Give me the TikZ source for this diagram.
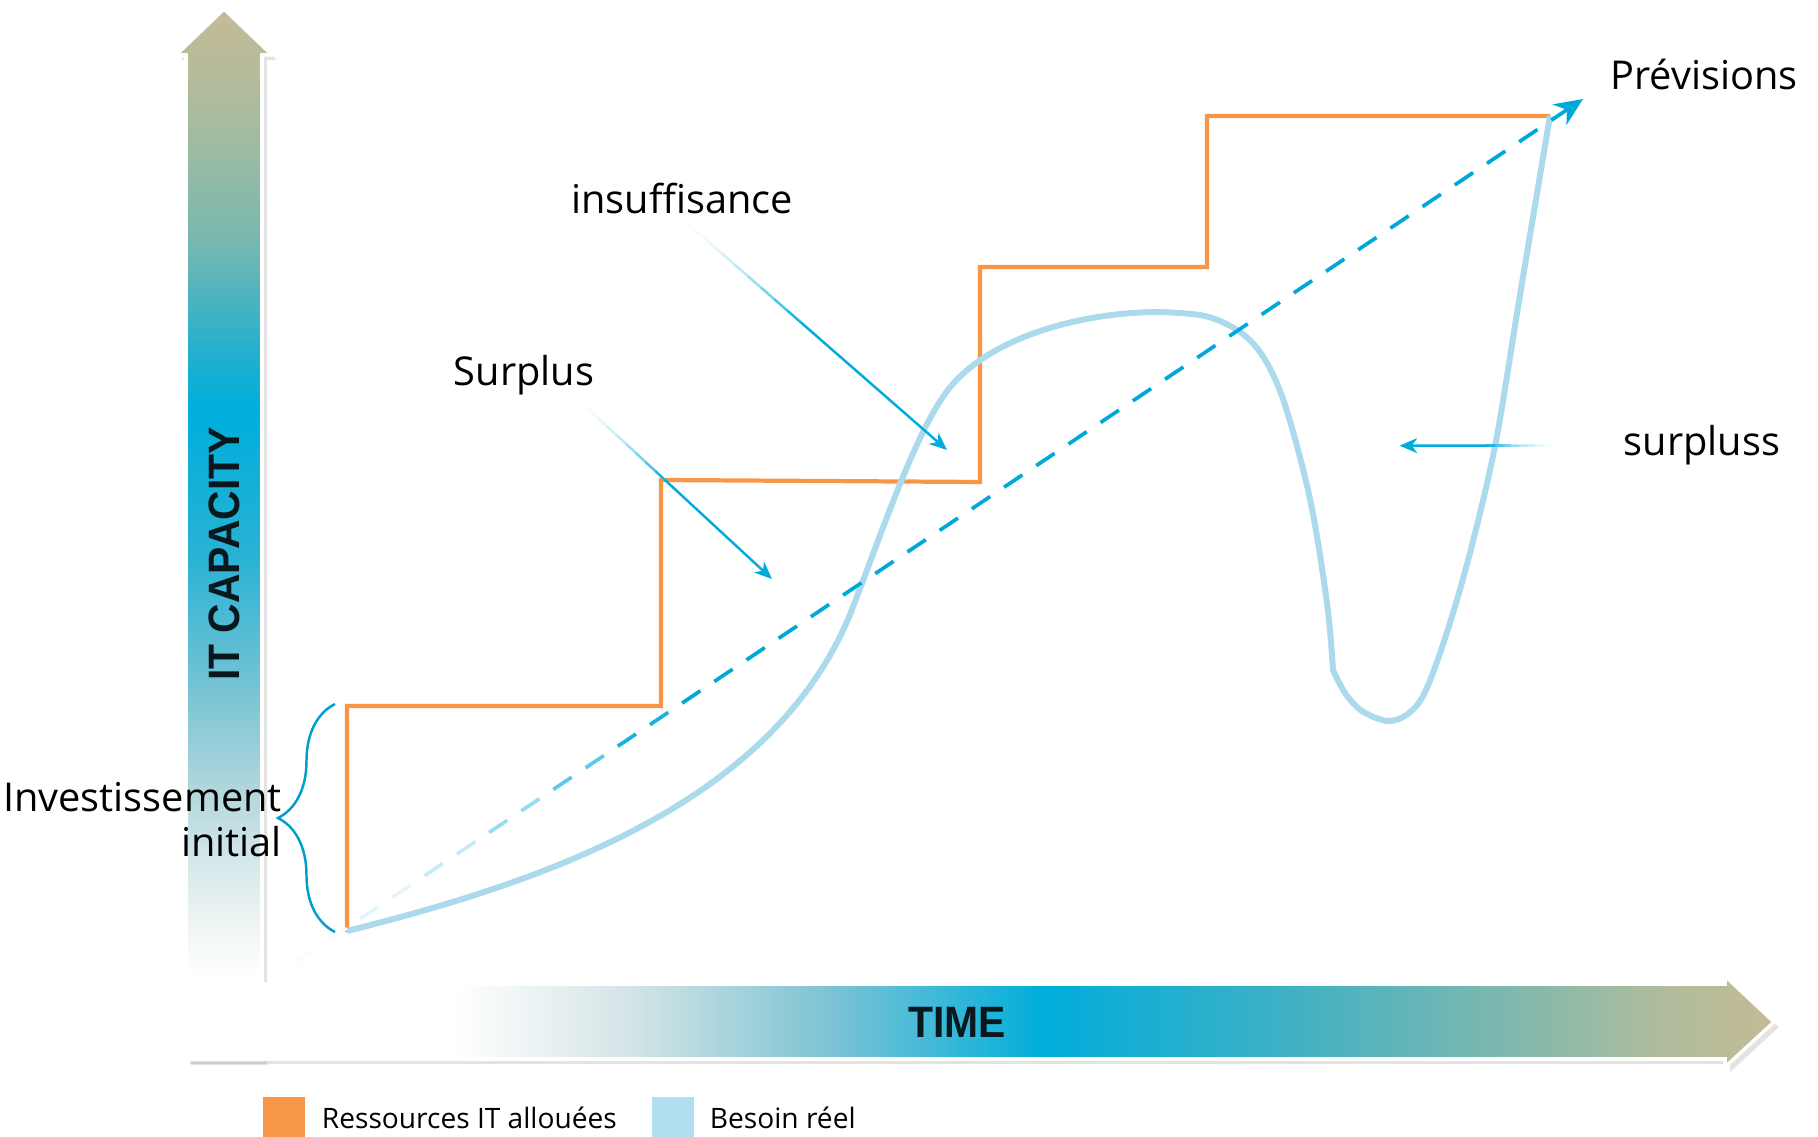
\documentclass[tikz,border=0pt]{standalone}
\usepackage{fontspec}
\setmainfont{Open Sans}
\newfontfamily\axisfont{Liberation Sans}[FakeStretch=0.93]
\usetikzlibrary{calc,positioning,arrows.meta,shadows,decorations.pathreplacing}

\definecolor{allocorange}{RGB}{247,150,70}
\definecolor{needblue}{RGB}{170,218,236}
\definecolor{needkey}{RGB}{178,223,240}
\definecolor{trendblue}{RGB}{0,168,218}
\definecolor{pointerblue}{RGB}{0,172,222}
\definecolor{bracecyan}{RGB}{0,158,204}
\definecolor{axisink}{RGB}{10,24,30}

\pgfdeclareverticalshading{capshade}{100bp}{rgb(0bp)=(1,1,1); rgb(25bp)=(1,1,1); rgb(29bp)=(1,1,1);
  rgb(33bp)=(0.894,0.933,0.933); rgb(38bp)=(0.690,0.839,0.863); rgb(42.5bp)=(0.471,0.769,0.831);
  rgb(49bp)=(0.157,0.698,0.831); rgb(56bp)=(0,0.682,0.859); rgb(59bp)=(0.157,0.690,0.8);
  rgb(64bp)=(0.471,0.722,0.690); rgb(70bp)=(0.667,0.737,0.620); rgb(75bp)=(0.769,0.733,0.588);
  rgb(100bp)=(0.769,0.733,0.588)}
\pgfdeclarehorizontalshading{timeshade}{100bp}{rgb(0bp)=(1,1,1); rgb(25bp)=(1,1,1); rgb(33.5bp)=(1,1,1);
  rgb(39bp)=(0.831,0.894,0.902); rgb(45bp)=(0.510,0.769,0.831); rgb(52bp)=(0,0.682,0.859);
  rgb(59bp)=(0.227,0.690,0.776); rgb(66bp)=(0.471,0.722,0.690); rgb(71.5bp)=(0.690,0.737,0.612);
  rgb(75bp)=(0.769,0.733,0.588); rgb(100bp)=(0.769,0.733,0.588)}

\begin{document}
\begin{tikzpicture}[x=0.01cm, y=-0.01cm,
  notetext/.style={font=\fontsize{11.3}{12.8}\selectfont, inner sep=1pt},
  axislabel/.style={font=\axisfont\bfseries\fontsize{12.5}{14}\selectfont, text=axisink},
  axisarrow/.style={draw=white, line width=1pt, drop shadow={shadow xshift=0.05cm, shadow yshift=-0.05cm, opacity=0.22}},
  alloc/.style={draw=allocorange, line width=1.2pt},
  need/.style={draw=needblue, line width=1.7pt, line join=round},
  trend/.style={line width=1.05pt, dash pattern=on 0.22cm off 0.1674cm},
  pointer/.style={line width=0.7pt, line cap=round},
  keybox/.style={minimum size=0.41cm, inner sep=0pt},
  keytext/.style={font=\fontsize{8}{10}\selectfont, inner sep=0pt}]

  \useasboundingbox (0,0) rectangle (1818,1137);

  % axes
  \shade[shading=capshade, axisarrow] (186,1060) -- (186,55) -- (176,55) -- (224,9) -- (272,55) -- (262,55) -- (262,1060) -- cycle;
  \shade[shading=timeshade, axisarrow] (185,984) -- (1725,984) -- (1725,976) -- (1774,1022) -- (1725,1067) -- (1725,1059) -- (185,1059) -- cycle;
  \node[axislabel, rotate=90] (capLabel) at (224,554) {IT CAPACITY};
  \node[axislabel] (timeLabel) at (957,1022) {TIME};

  % allocated resources
  \draw[alloc] (347,932) -- (347,706) -- (661,706) -- (661,480) -- (980,482) -- (980,267)
    -- (1207,267) -- (1207,116) -- (1550,116);

  % real need
  \draw[need] (347,931) .. controls (547,881) and (778,802) .. (853,607)
    .. controls (886,521) and (919,423) .. (952,385)
    .. controls (997,333) and (1090,312) .. (1159,312)
    -- plot[smooth, tension=0.55] coordinates {(1159,312) (1205,316) (1240,332) (1264,358)
      (1285,405) (1310,499) (1327,603) (1333,670)}
    -- plot[smooth, tension=0.55] coordinates {(1333,670) (1345,693) (1362,711) (1388,721)
      (1409,713) (1426,690) (1449,626) (1472,545) (1496,441) (1519,301) (1550,116)};

  % forecast
  \coordinate (trendFrom) at (296,962);
  \coordinate (trendTo) at (1583,99);
  \foreach \k [evaluate=\k as \a using (\k-1)/20, evaluate=\k as \b using \k/20,
               evaluate=\k as \p using \k*\k*2.5] in {1,...,6}
    \draw[trend, trendblue!\p!white] ($(trendFrom)!\a!(trendTo)$) -- ($(trendFrom)!\b!(trendTo)$);
  \draw[trend, trendblue, -{Stealth[length=8pt, width=7pt, inset=2.5pt]}] ($(trendFrom)!0.3!(trendTo)$) -- (trendTo);

  % labels
  \node[notetext, anchor=base] (previsions) at (1704,90) {Prévisions};
  \node[notetext, anchor=base] (insuf) at (682,214) {insuffisance};
  \node[notetext, anchor=base] (surplus) at (524,386) {Surplus};
  \node[notetext, anchor=base] (surpluss) at (1702,456) {surpluss};
  \node[notetext, anchor=east, align=right] (invest) at (286,820) {Investissement\\initial};

  % brace
  \draw[bracecyan, line width=0.7pt, decorate, decoration={brace, amplitude=0.57cm}] (335,932) -- (335,704);

  % pointers
  \coordinate (insufFrom) at (insuf.south);
  \coordinate (insufTip) at (947,450);
  \coordinate (surplusFrom) at ([xshift=-0.2cm]surplus.south east);
  \coordinate (surplusTip) at (772,579);
  \coordinate (surplussFrom) at ([xshift=-0.62cm]surpluss.west);
  \coordinate (surplussTip) at ([xshift=-1.58cm]surplussFrom);
  \foreach \src/\dst in {insufFrom/insufTip, surplusFrom/surplusTip, surplussFrom/surplussTip} {
    \foreach \k [evaluate=\k as \a using (\k-1)/20, evaluate=\k as \b using \k/20,
                 evaluate=\k as \p using \k*\k*1.1] in {1,...,9}
      \draw[pointer, pointerblue!\p!white] ($(\src)!\a!(\dst)$) -- ($(\src)!\b!(\dst)$);
    \draw[pointer, pointerblue, -{Stealth[length=5pt, width=4.2pt, inset=1.5pt]}] ($(\src)!0.45!(\dst)$) -- (\dst);
  }

  % legend
  \node[keybox, fill=allocorange] (keyAlloc) at (284,1118) {};
  \node[keytext, right=0.16cm of keyAlloc] (keyAllocText) {Ressources IT allouées};
  \node[keybox, fill=needkey] (keyNeed) at (673,1118) {};
  \node[keytext, right=0.15cm of keyNeed] (keyNeedText) {Besoin réel};

\end{tikzpicture}
\end{document}
